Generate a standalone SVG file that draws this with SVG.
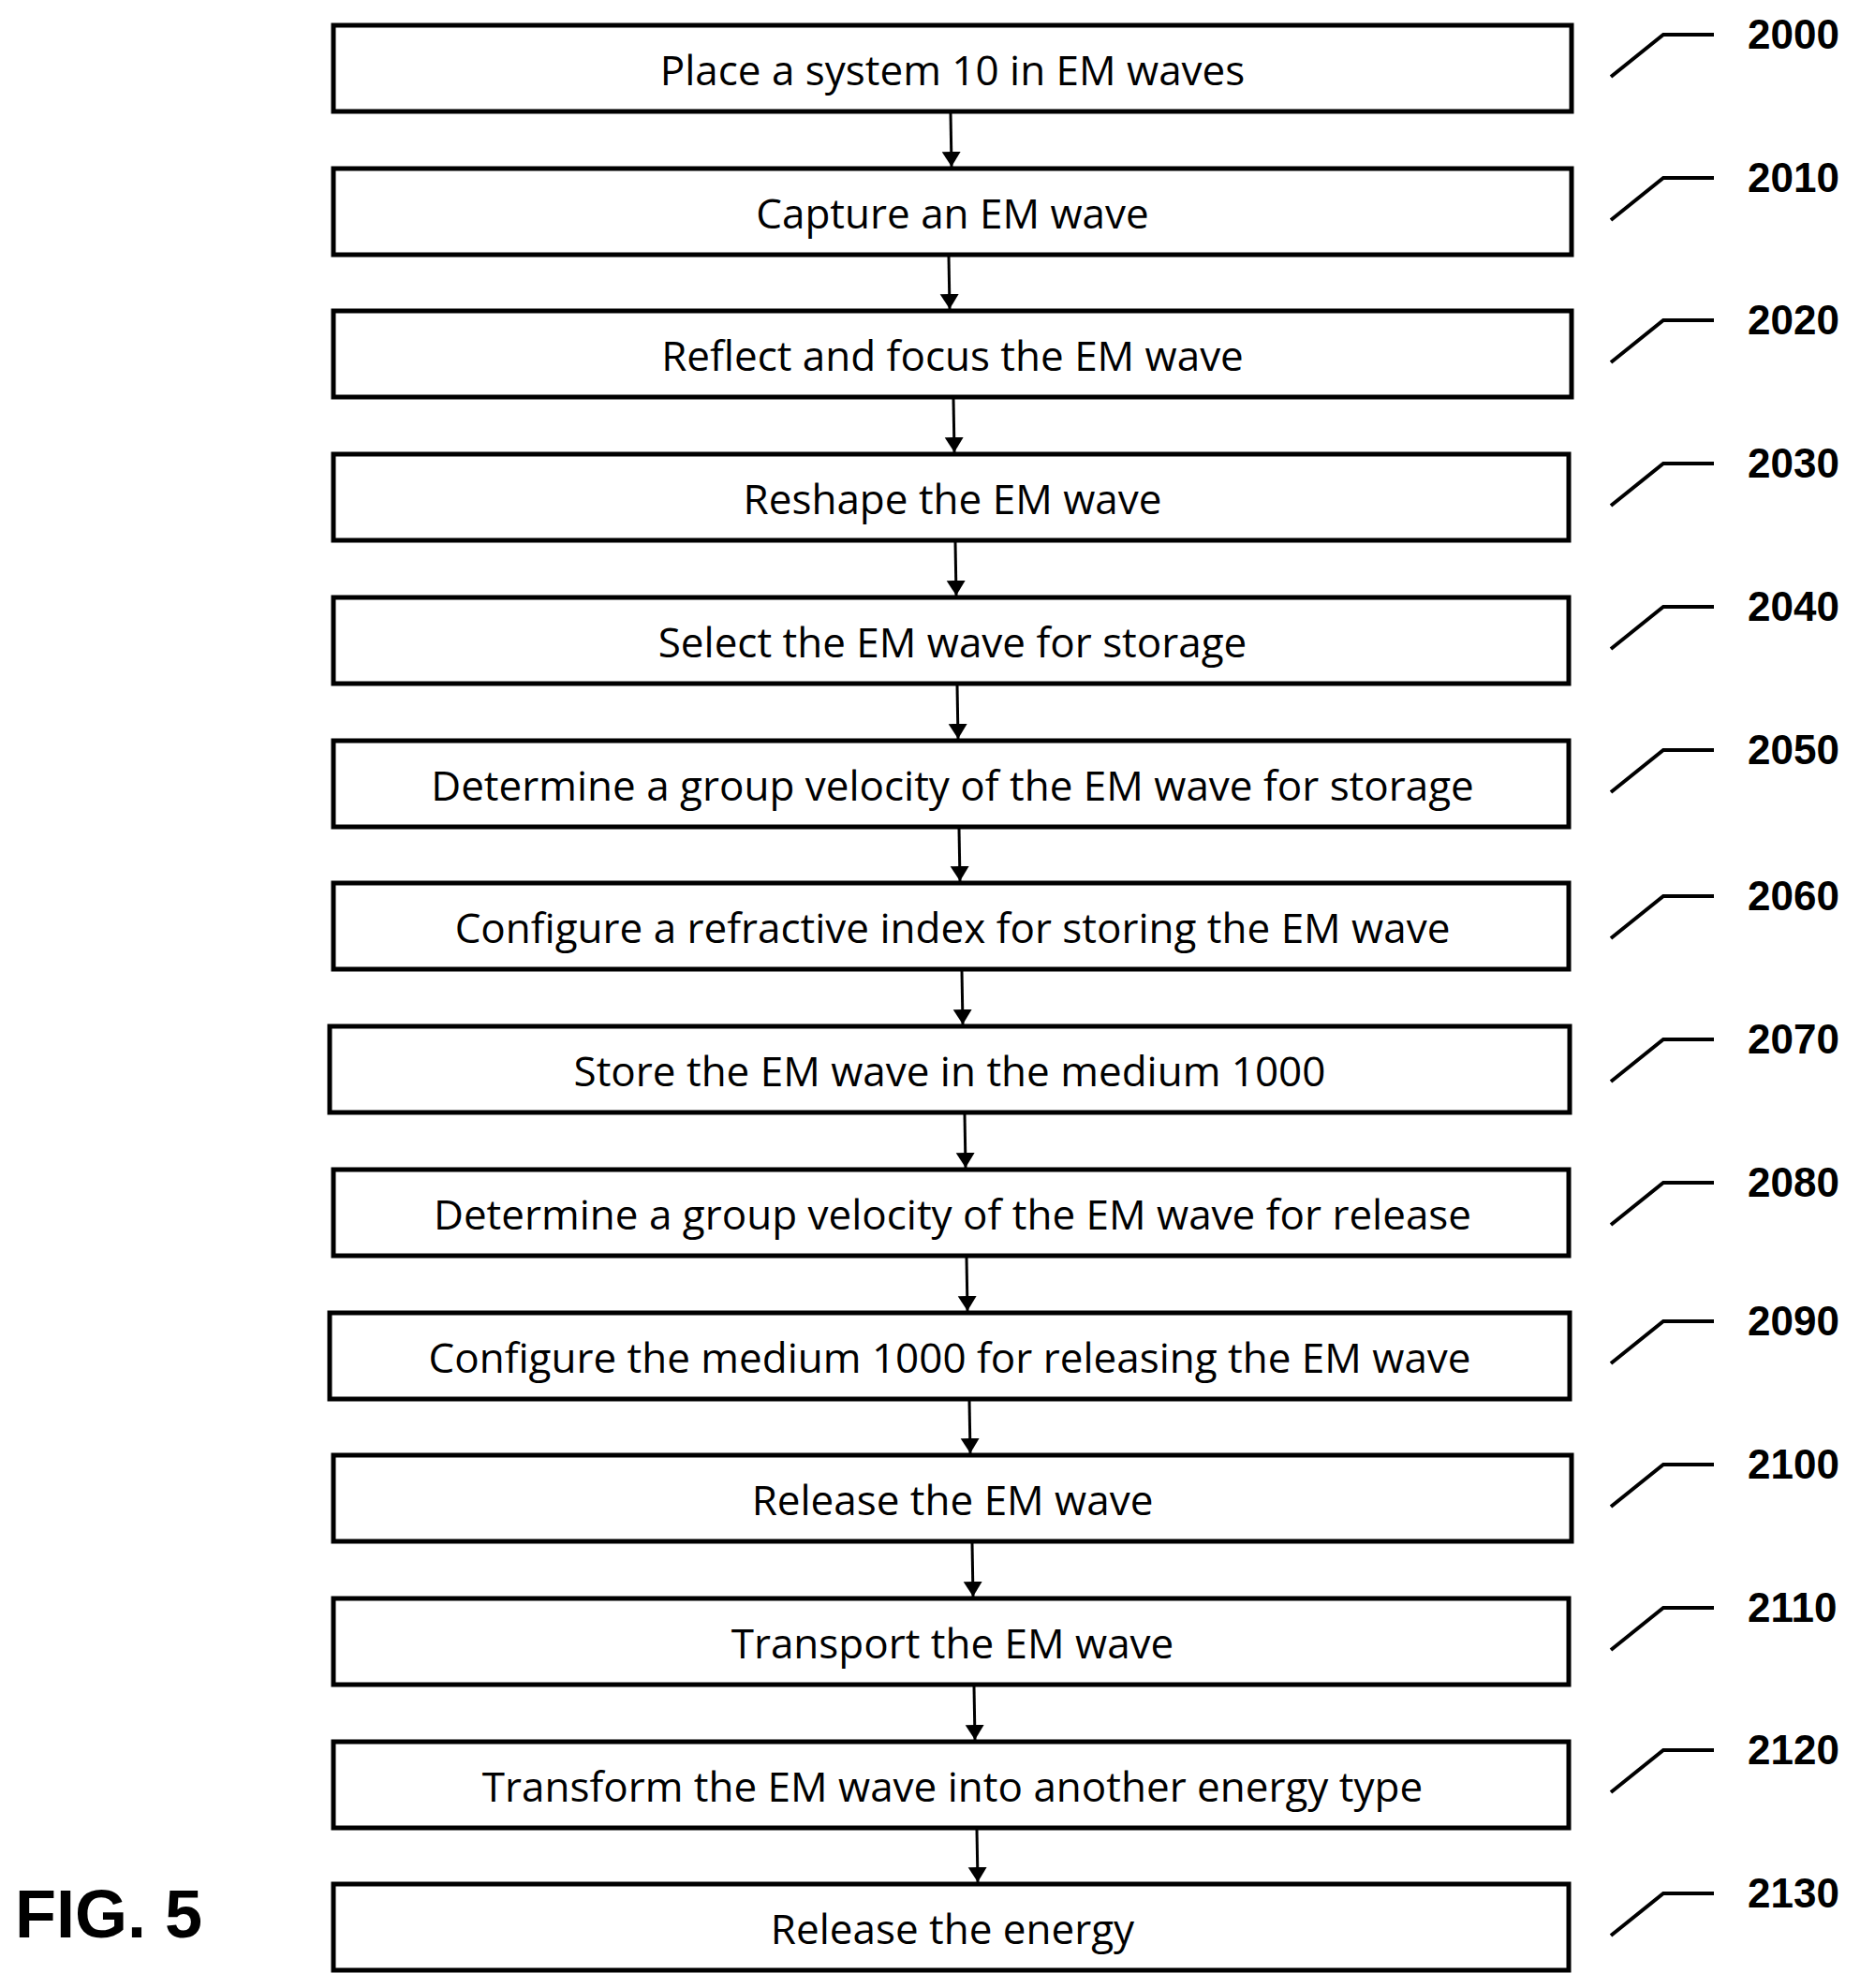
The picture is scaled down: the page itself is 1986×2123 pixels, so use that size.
<svg xmlns="http://www.w3.org/2000/svg" width="1986" height="2123" viewBox="0 0 1986 2123">
<style>
.box{fill:#fff;stroke:#000;stroke-width:5}
.t{font-family:"Open Sans","Noto Sans",sans-serif;font-size:44px;text-anchor:middle;dominant-baseline:central}
.ref{font-family:"Liberation Sans",sans-serif;font-size:44px;font-weight:bold}
.lead{fill:none;stroke:#000;stroke-width:4}
.c{stroke:#000;stroke-width:3;marker-end:url(#a)}
</style>
<defs><marker id="a" markerWidth="16" markerHeight="28" refX="16" refY="14" orient="auto" markerUnits="userSpaceOnUse"><path d="M0,4 L16,14 L0,24 Z"/></marker></defs>
<rect width="1986" height="2123" fill="#fff"/>
<g id="n2000"><rect class="box" x="356" y="27" width="1322" height="92"/><text class="t" x="1017" y="74">Place a system 10 in EM waves</text></g>
<g id="n2010"><rect class="box" x="356" y="180" width="1322" height="92"/><text class="t" x="1017" y="227">Capture an EM wave</text></g>
<g id="n2020"><rect class="box" x="356" y="332" width="1322" height="92"/><text class="t" x="1017" y="379">Reflect and focus the EM wave</text></g>
<g id="n2030"><rect class="box" x="356" y="485" width="1319" height="92"/><text class="t" x="1017" y="532">Reshape the EM wave</text></g>
<g id="n2040"><rect class="box" x="356" y="638" width="1319" height="92"/><text class="t" x="1017" y="685">Select the EM wave for storage</text></g>
<g id="n2050"><rect class="box" x="356" y="791" width="1319" height="92"/><text class="t" x="1017" y="838">Determine a group velocity of the EM wave for storage</text></g>
<g id="n2060"><rect class="box" x="356" y="943" width="1319" height="92"/><text class="t" x="1017" y="990">Configure a refractive index for storing the EM wave</text></g>
<g id="n2070"><rect class="box" x="352" y="1096" width="1324" height="92"/><text class="t" x="1014" y="1143">Store the EM wave in the medium 1000</text></g>
<g id="n2080"><rect class="box" x="356" y="1249" width="1319" height="92"/><text class="t" x="1017" y="1296">Determine a group velocity of the EM wave for release</text></g>
<g id="n2090"><rect class="box" x="352" y="1402" width="1324" height="92"/><text class="t" x="1014" y="1449">Configure the medium 1000 for releasing the EM wave</text></g>
<g id="n2100"><rect class="box" x="356" y="1554" width="1322" height="92"/><text class="t" x="1017" y="1601">Release the EM wave</text></g>
<g id="n2110"><rect class="box" x="356" y="1707" width="1319" height="92"/><text class="t" x="1017" y="1754">Transport the EM wave</text></g>
<g id="n2120"><rect class="box" x="356" y="1860" width="1319" height="92"/><text class="t" x="1017" y="1907">Transform the EM wave into another energy type</text></g>
<g id="n2130"><rect class="box" x="356" y="2012" width="1319" height="92"/><text class="t" x="1017" y="2059">Release the energy</text></g>
<g id="connectors">
<line class="c" x1="1015" y1="121" x2="1016" y2="178"/>
<line class="c" x1="1013" y1="274" x2="1014" y2="330"/>
<line class="c" x1="1018" y1="426" x2="1019" y2="483"/>
<line class="c" x1="1020" y1="579" x2="1021" y2="636"/>
<line class="c" x1="1022" y1="732" x2="1023" y2="789"/>
<line class="c" x1="1024" y1="885" x2="1025" y2="941"/>
<line class="c" x1="1027" y1="1037" x2="1028" y2="1094"/>
<line class="c" x1="1030" y1="1190" x2="1031" y2="1247"/>
<line class="c" x1="1032" y1="1343" x2="1033" y2="1400"/>
<line class="c" x1="1035" y1="1496" x2="1036" y2="1552"/>
<line class="c" x1="1038" y1="1648" x2="1039" y2="1705"/>
<line class="c" x1="1040" y1="1801" x2="1041" y2="1858"/>
<line class="c" x1="1043" y1="1954" x2="1044" y2="2010"/>
</g>
<g id="refs">
<path class="lead" d="M1720,82 L1776,37 L1830,37"/><text class="ref" x="1866" y="52">2000</text>
<path class="lead" d="M1720,235 L1776,190 L1830,190"/><text class="ref" x="1866" y="205">2010</text>
<path class="lead" d="M1720,387 L1776,342 L1830,342"/><text class="ref" x="1866" y="357">2020</text>
<path class="lead" d="M1720,540 L1776,495 L1830,495"/><text class="ref" x="1866" y="510">2030</text>
<path class="lead" d="M1720,693 L1776,648 L1830,648"/><text class="ref" x="1866" y="663">2040</text>
<path class="lead" d="M1720,846 L1776,801 L1830,801"/><text class="ref" x="1866" y="816">2050</text>
<path class="lead" d="M1720,1002 L1776,957 L1830,957"/><text class="ref" x="1866" y="972">2060</text>
<path class="lead" d="M1720,1155 L1776,1110 L1830,1110"/><text class="ref" x="1866" y="1125">2070</text>
<path class="lead" d="M1720,1308 L1776,1263 L1830,1263"/><text class="ref" x="1866" y="1278">2080</text>
<path class="lead" d="M1720,1456 L1776,1411 L1830,1411"/><text class="ref" x="1866" y="1426">2090</text>
<path class="lead" d="M1720,1609 L1776,1564 L1830,1564"/><text class="ref" x="1866" y="1579">2100</text>
<path class="lead" d="M1720,1762 L1776,1717 L1830,1717"/><text class="ref" x="1866" y="1732">2110</text>
<path class="lead" d="M1720,1914 L1776,1869 L1830,1869"/><text class="ref" x="1866" y="1884">2120</text>
<path class="lead" d="M1720,2067 L1776,2022 L1830,2022"/><text class="ref" x="1866" y="2037">2130</text>
</g>
<text x="16" y="2069" font-family="Liberation Sans,sans-serif" font-weight="bold" font-size="72">FIG. 5</text>
</svg>
